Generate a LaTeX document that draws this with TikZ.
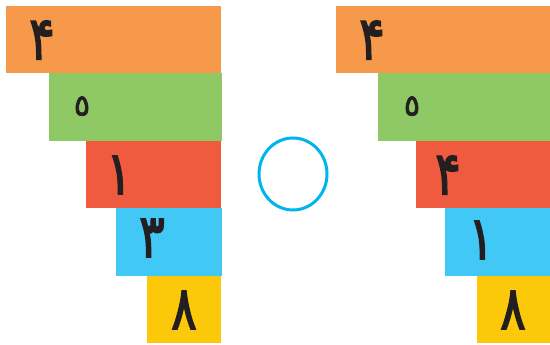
\documentclass[tikz,border=0pt]{standalone}
\usepackage{fontspec}
\usepackage{xcolor}
\usepackage{tikz}
\newfontfamily\arabicfont[Script=Arabic, FakeBold=2.5]{DejaVu Sans}

\definecolor{barorange}{HTML}{F7994A}
\definecolor{bargreen}{HTML}{8FC965}
\definecolor{barred}{HTML}{F05A3E}
\definecolor{barblue}{HTML}{42C8F4}
\definecolor{baryellow}{HTML}{FCC90A}
\definecolor{ringblue}{HTML}{00B4EC}
\definecolor{digitink}{HTML}{231F20}

\begin{document}
\begin{tikzpicture}[x=1pt, y=-1pt,
  digit/.style={font=\arabicfont\fontsize{60}{60}\selectfont, text=digitink,
    inner sep=0pt, xscale=0.8, transform shape},
  fivedigit/.style={font=\arabicfont\fontsize{30}{30}\selectfont, text=digitink,
    inner sep=0pt}]

\useasboundingbox (0,0) rectangle (550,345);

%% ─── Left staircase ─────────────────────────────────────────
\fill[barorange] (6,6) rectangle (221,73);
\node[digit] (l1) at (42,40) {۴};
\fill[bargreen] (49,73) rectangle (222,141);
\node[fivedigit] (l2) at (82,106) {٥};
\fill[barred] (86,141) rectangle (221,208);
\node[digit] (l3) at (119,175) {۱};
\fill[barblue] (116,208) rectangle (222,276);
\node[digit] (l4) at (152,238) {۳};
\fill[baryellow] (147,276) rectangle (221,343);
\node[digit] (l5) at (184,310) {۸};

%% ─── Empty circle ───────────────────────────────────────────
\draw[ringblue, line width=3pt] (293,174) ellipse (34 and 36);

%% ─── Right staircase ────────────────────────────────────────
\fill[barorange] (336,6) rectangle (550,73);
\node[digit] (r1) at (372,40) {۴};
\fill[bargreen] (378,73) rectangle (550,141);
\node[fivedigit] (r2) at (412,106) {٥};
\fill[barred] (416,141) rectangle (550,208);
\node[digit] (r3) at (448,175) {۴};
\fill[barblue] (445,208) rectangle (550,276);
\node[digit] (r4) at (481,240) {۱};
\fill[baryellow] (477,276) rectangle (550,343);
\node[digit] (r5) at (513,310) {۸};

\end{tikzpicture}
\end{document}
